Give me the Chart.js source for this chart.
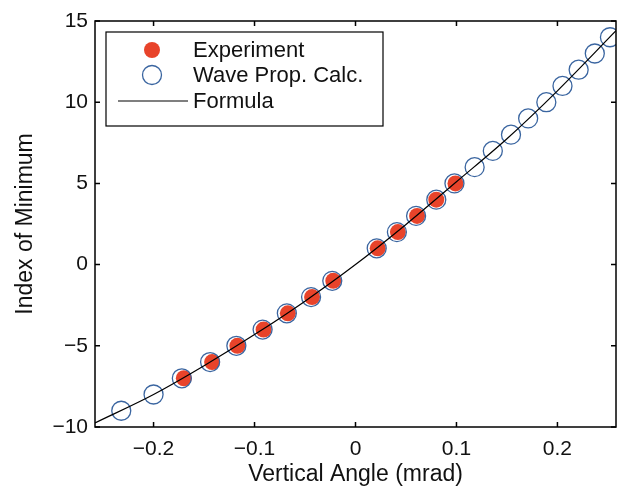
<!DOCTYPE html>
<html>
<head>
<meta charset="utf-8">
<script src="https://cdn.jsdelivr.net/npm/chart.js@4.4.1/dist/chart.umd.min.js"></script>
<style>
  html, body { margin: 0; padding: 0; background: #fff; }
</style>
</head>
<body>
<canvas id="chart" width="621" height="488"></canvas>
<script>
// wave propagation calculation (open circles)
const waveX = [-0.232, -0.200, -0.172, -0.144, -0.118, -0.092, -0.068, -0.044, -0.023,
  0.021, 0.041, 0.060, 0.080, 0.098, 0.118, 0.136, 0.154, 0.171, 0.189, 0.205, 0.221, 0.237, 0.252];
const waveY = [-9, -8, -7, -6, -5, -4, -3, -2, -1, 1, 2, 3, 4, 5, 6, 7, 8, 9, 10, 11, 12, 13, 14];

// experiment (filled red)
const expX = [-0.170, -0.142, -0.117, -0.091, -0.067, -0.043, -0.022, 0.022, 0.042, 0.061, 0.080, 0.099];
const expY = [-7, -6, -5, -4, -3, -2, -1, 1, 2, 3, 4, 5];

// formula curve
const formulaX = [-0.258, -0.2, -0.15, -0.1, -0.05, 0, 0.05, 0.1, 0.15, 0.2, 0.258];
const formulaY = [-9.75, -8.0, -6.23, -4.31, -2.25, 0.0, 2.47, 5.1, 7.75, 10.7, 14.4];

const xTicks = [-0.2, -0.1, 0, 0.1, 0.2];
const yTicks = [-10, -5, 0, 5, 10, 15];

const pts = (xs, ys) => xs.map((x, i) => ({ x: x, y: ys[i] }));
const fmt = v => String(Math.round(v * 10) / 10).replace("-", "\u2212");

const FONT = "'Liberation Sans', Arial, sans-serif";

// box + inward ticks on all four sides
const frame = {
  id: "frame",
  afterDraw(chart) {
    const { ctx, chartArea: a, scales } = chart;
    ctx.save();
    ctx.strokeStyle = "#000";
    ctx.lineWidth = 1.5;
    ctx.strokeRect(a.left, a.top, a.right - a.left, a.bottom - a.top);
    ctx.beginPath();
    xTicks.forEach(v => {
      const px = scales.x.getPixelForValue(v);
      ctx.moveTo(px, a.bottom); ctx.lineTo(px, a.bottom - 5);
      ctx.moveTo(px, a.top); ctx.lineTo(px, a.top + 5);
    });
    yTicks.forEach(v => {
      const py = scales.y.getPixelForValue(v);
      ctx.moveTo(a.left, py); ctx.lineTo(a.left + 5, py);
      ctx.moveTo(a.right, py); ctx.lineTo(a.right - 5, py);
    });
    ctx.stroke();
    ctx.restore();
  }
};

// legend box drawn inside the plot, top-left
const boxLegend = {
  id: "boxLegend",
  afterDraw(chart) {
    const { ctx, chartArea: a } = chart;
    const x0 = a.left + 11, y0 = a.top + 11, w = 277, h = 94;
    ctx.save();
    ctx.fillStyle = "#fff";
    ctx.fillRect(x0, y0, w, h);
    ctx.strokeStyle = "#000";
    ctx.lineWidth = 1.2;
    ctx.strokeRect(x0, y0, w, h);
    const mx = a.left + 57, tx = a.left + 98;
    const rows = [a.top + 29, a.top + 54, a.top + 80];
    const ds = chart.data.datasets;
    // Experiment
    ctx.beginPath();
    ctx.arc(mx, rows[0], ds[0].pointRadius, 0, Math.PI * 2);
    ctx.fillStyle = ds[0].pointBackgroundColor;
    ctx.fill();
    // Wave Prop. Calc.
    ctx.beginPath();
    ctx.arc(mx, rows[1], ds[1].pointRadius, 0, Math.PI * 2);
    ctx.strokeStyle = ds[1].pointBorderColor;
    ctx.lineWidth = ds[1].pointBorderWidth;
    ctx.stroke();
    // Formula
    ctx.beginPath();
    ctx.moveTo(a.left + 23, rows[2]);
    ctx.lineTo(a.left + 93, rows[2]);
    ctx.strokeStyle = "#000";
    ctx.lineWidth = 1.2;
    ctx.stroke();
    ctx.fillStyle = "#111";
    ctx.font = "22px " + FONT;
    ctx.textBaseline = "middle";
    ds.forEach((d, i) => ctx.fillText(d.label, tx, rows[i] + 1));
    ctx.restore();
  }
};

new Chart(document.getElementById("chart"), {
  type: "scatter",
  data: {
    datasets: [
      {
        label: "Experiment",
        data: pts(expX, expY),
        pointRadius: 8,
        pointBackgroundColor: "#e8432a",
        pointBorderColor: "#e8432a",
        pointBorderWidth: 0,
        order: 3
      },
      {
        label: "Wave Prop. Calc.",
        data: pts(waveX, waveY),
        pointRadius: 9.5,
        pointBackgroundColor: "rgba(0,0,0,0)",
        pointBorderColor: "#3a65a0",
        pointBorderWidth: 1.3,
        order: 2
      },
      {
        label: "Formula",
        type: "line",
        data: pts(formulaX, formulaY),
        borderColor: "#000",
        borderWidth: 1.2,
        pointRadius: 0,
        showLine: true,
        fill: false,
        cubicInterpolationMode: "monotone",
        order: 1
      }
    ]
  },
  options: {
    responsive: false,
    animation: false,
    events: [],
    layout: { autoPadding: false, padding: { top: 21, right: 5, left: 0, bottom: 0 } },
    plugins: { legend: { display: false }, tooltip: { enabled: false } },
    scales: {
      x: {
        type: "linear",
        min: -0.258,
        max: 0.258,
        afterFit: s => { s.height = 61; s.paddingLeft = 0; s.paddingRight = 0; },
        afterBuildTicks: s => { s.ticks = xTicks.map(v => ({ value: v })); },
        ticks: { font: { family: FONT, size: 21 }, color: "#111", padding: 10, callback: fmt },
        grid: { display: false, drawTicks: false },
        border: { display: false },
        title: { display: true, text: "Vertical Angle (mrad)", font: { family: FONT, size: 23 }, color: "#111", padding: { top: 0, bottom: 0 } }
      },
      y: {
        min: -10,
        max: 15,
        afterFit: s => { s.width = 95; s.paddingTop = 0; s.paddingBottom = 0; },
        afterBuildTicks: s => { s.ticks = yTicks.map(v => ({ value: v })); },
        ticks: { font: { family: FONT, size: 21 }, color: "#111", padding: 7, callback: fmt },
        grid: { display: false, drawTicks: false },
        border: { display: false },
        title: { display: true, text: "Index of Minimum", font: { family: FONT, size: 23 }, color: "#111", padding: { top: 12, bottom: 0 } }
      }
    }
  },
  plugins: [frame, boxLegend]
});
</script>
</body>
</html>
